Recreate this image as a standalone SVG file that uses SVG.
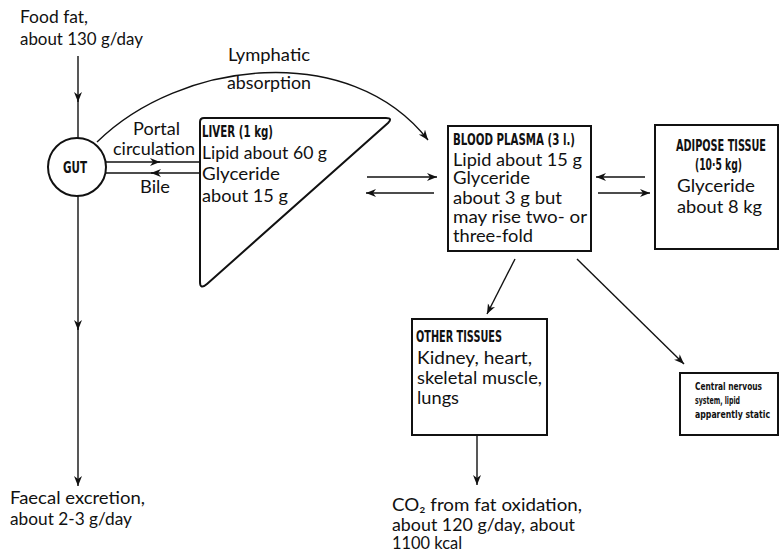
<svg xmlns="http://www.w3.org/2000/svg" width="780" height="552" viewBox="0 0 780 552">
<style>
.t{font-family:Lato,"Open Sans","Liberation Sans",sans-serif;font-size:16.5px;fill:#111}
.h{font-family:"DejaVu Sans","Liberation Sans",sans-serif;font-size:15px;font-weight:bold;fill:#111}
.s{font-family:"DejaVu Sans","Liberation Sans",sans-serif;font-size:10.5px;font-weight:bold;fill:#111}
.ln{stroke:#111;stroke-width:1.4;fill:none}
.bx{stroke:#111;stroke-width:2;fill:#fff}
</style>
<defs>
<marker id="a" markerUnits="userSpaceOnUse" markerWidth="12" markerHeight="10" refX="10" refY="4" orient="auto">
<path d="M0,0 L10,4 L0,8 L3,4 Z" fill="#111"/>
</marker>
</defs>
<g id="connectors">
<line class="ln" x1="78" y1="56" x2="78" y2="102" marker-end="url(#a)"/>
<line class="ln" x1="78" y1="100" x2="78" y2="138"/>
<line class="ln" x1="78" y1="196" x2="78" y2="330" marker-end="url(#a)"/>
<line class="ln" x1="78" y1="328" x2="78" y2="486" marker-end="url(#a)"/>
<line class="ln" x1="106" y1="162" x2="160" y2="162" marker-end="url(#a)"/>
<line class="ln" x1="158" y1="162" x2="200" y2="162"/>
<line class="ln" x1="200" y1="173" x2="151" y2="173" marker-end="url(#a)"/>
<line class="ln" x1="153" y1="173" x2="106" y2="173"/>
<path class="ln" d="M97,142 C180,60 350,40 428,140" marker-end="url(#a)"/>
<line class="ln" x1="367" y1="177" x2="437" y2="177" marker-end="url(#a)"/>
<line class="ln" x1="434" y1="193" x2="366" y2="193" marker-end="url(#a)"/>
<line class="ln" x1="645" y1="177" x2="596" y2="177" marker-end="url(#a)"/>
<line class="ln" x1="598" y1="193" x2="650" y2="193" marker-end="url(#a)"/>
<line class="ln" x1="515" y1="259" x2="487" y2="314" marker-end="url(#a)"/>
<line class="ln" x1="577" y1="259" x2="684" y2="364" marker-end="url(#a)"/>
<line class="ln" x1="477" y1="436" x2="477" y2="485" marker-end="url(#a)"/>
</g>
<g id="food">
<text class="t" x="20" y="23" textLength="68" lengthAdjust="spacingAndGlyphs">Food fat,</text>
<text class="t" x="20" y="45" textLength="123" lengthAdjust="spacingAndGlyphs">about 130 g/day</text>
</g>
<g id="lymph">
<text class="t" x="228" y="61" textLength="82" lengthAdjust="spacingAndGlyphs">Lymphatic</text>
<text class="t" x="227" y="89" textLength="84" lengthAdjust="spacingAndGlyphs">absorption</text>
</g>
<g id="portal">
<text class="t" x="133" y="135" textLength="47" lengthAdjust="spacingAndGlyphs">Portal</text>
<text class="t" x="113" y="155" textLength="82" lengthAdjust="spacingAndGlyphs">circulation</text>
<text class="t" x="140" y="193" textLength="30" lengthAdjust="spacingAndGlyphs">Bile</text>
</g>
<g id="gut">
<circle class="bx" cx="77" cy="167" r="29"/>
<text class="h" x="63" y="173" font-size="16" textLength="24" lengthAdjust="spacingAndGlyphs">GUT</text>
</g>
<g id="liver">
<path class="bx" d="M204,118 L386,118 Q393,118 388,123 L207,284 Q200,290 200,282 L200,122 Q200,118 204,118 Z"/>
<text class="h" x="202" y="137" textLength="71" lengthAdjust="spacingAndGlyphs">LIVER (1 kg)</text>
<text class="t" x="202" y="159" textLength="125" lengthAdjust="spacingAndGlyphs">Lipid about 60 g</text>
<text class="t" x="202" y="180" textLength="78" lengthAdjust="spacingAndGlyphs">Glyceride</text>
<text class="t" x="202" y="202" textLength="86" lengthAdjust="spacingAndGlyphs">about 15 g</text>
</g>
<g id="plasma">
<rect class="bx" x="448" y="126" width="143" height="125"/>
<text class="h" x="453" y="145" textLength="122" lengthAdjust="spacingAndGlyphs">BLOOD PLASMA (3 l.)</text>
<text class="t" x="453" y="166" textLength="129" lengthAdjust="spacingAndGlyphs">Lipid about 15 g</text>
<text class="t" x="453" y="184" textLength="77" lengthAdjust="spacingAndGlyphs">Glyceride</text>
<text class="t" x="453" y="204" textLength="109" lengthAdjust="spacingAndGlyphs">about 3 g but</text>
<text class="t" x="453" y="223" textLength="134" lengthAdjust="spacingAndGlyphs">may rise two- or</text>
<text class="t" x="453" y="242" textLength="80" lengthAdjust="spacingAndGlyphs">three-fold</text>
</g>
<g id="adipose">
<rect class="bx" x="655" y="125" width="123" height="124"/>
<text class="h" x="676" y="151" textLength="90" lengthAdjust="spacingAndGlyphs">ADIPOSE TISSUE</text>
<text class="h" x="695" y="170" textLength="47" lengthAdjust="spacingAndGlyphs">(10·5 kg)</text>
<text class="t" x="677" y="192" textLength="78" lengthAdjust="spacingAndGlyphs">Glyceride</text>
<text class="t" x="677" y="213" textLength="85" lengthAdjust="spacingAndGlyphs">about 8 kg</text>
</g>
<g id="other">
<rect class="bx" x="412" y="319" width="135" height="116"/>
<text class="h" x="416" y="342" textLength="86" lengthAdjust="spacingAndGlyphs">OTHER TISSUES</text>
<text class="t" x="417" y="364" textLength="115" lengthAdjust="spacingAndGlyphs">Kidney, heart,</text>
<text class="t" x="417" y="384" textLength="125" lengthAdjust="spacingAndGlyphs">skeletal muscle,</text>
<text class="t" x="417" y="404" textLength="42" lengthAdjust="spacingAndGlyphs">lungs</text>
</g>
<g id="cns">
<rect class="bx" x="680" y="373" width="98" height="62"/>
<text class="s" x="695" y="390" textLength="67" lengthAdjust="spacingAndGlyphs">Central nervous</text>
<text class="s" x="695" y="404" textLength="45" lengthAdjust="spacingAndGlyphs">system, lipid</text>
<text class="s" x="695" y="418" textLength="75" lengthAdjust="spacingAndGlyphs">apparently static</text>
</g>
<g id="co2">
<text class="t" x="392" y="511" textLength="190" lengthAdjust="spacingAndGlyphs">CO₂ from fat oxidation,</text>
<text class="t" x="392" y="531" textLength="183" lengthAdjust="spacingAndGlyphs">about 120 g/day, about</text>
<text class="t" x="392" y="549" textLength="70" lengthAdjust="spacingAndGlyphs">1100 kcal</text>
</g>
<g id="faecal">
<text class="t" x="10" y="504" textLength="135" lengthAdjust="spacingAndGlyphs">Faecal excretion,</text>
<text class="t" x="10" y="525" textLength="122" lengthAdjust="spacingAndGlyphs">about 2-3 g/day</text>
</g>
</svg>
